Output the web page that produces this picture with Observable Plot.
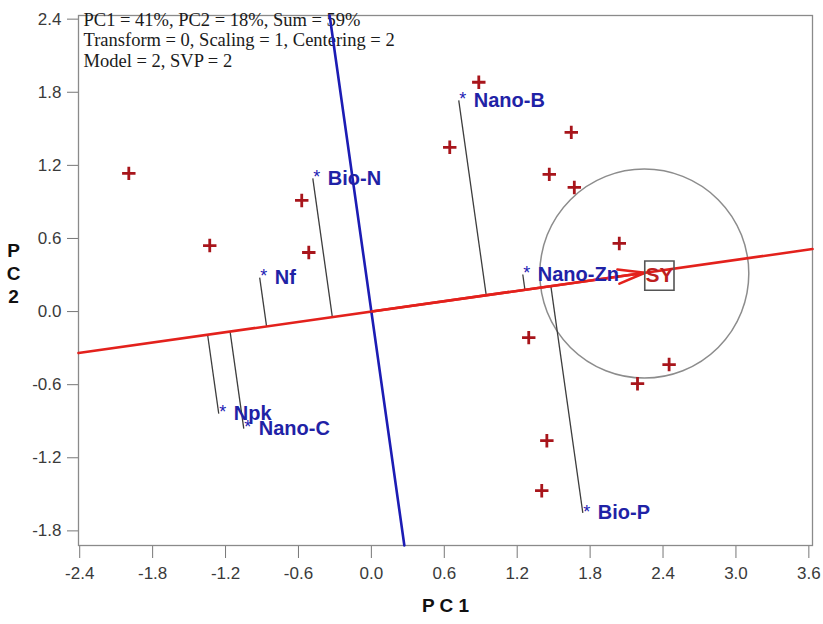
<!DOCTYPE html>
<html><head><meta charset="utf-8">
<script src="https://cdn.jsdelivr.net/npm/d3@7"></script>
<script src="https://cdn.jsdelivr.net/npm/@observablehq/plot@0.6"></script>
<style>body{margin:0;background:#fff} #chart svg{display:block}</style>
</head><body><div id="chart"></div>
<script>
// ---- data ----
const xTicks = [-2.4, -1.8, -1.2, -0.6, 0.0, 0.6, 1.2, 1.8, 2.4, 3.0, 3.6];
const yTicks = [-1.8, -1.2, -0.6, 0.0, 0.6, 1.2, 1.8, 2.4];

// entries (red plus markers)
const entryX = [-1.996, -1.33, -0.573, -0.515, 0.884, 0.645, 1.645, 1.464, 1.67, 2.04, 1.295, 2.45, 2.19, 1.444, 1.402];
const entryY = [1.134, 0.542, 0.912, 0.485, 1.882, 1.348, 1.471, 1.126, 1.019, 0.559, -0.214, -0.435, -0.592, -1.06, -1.47];

// testers (blue asterisks)
const testerNames = ["Nano-B", "Bio-N", "Nf", "Nano-Zn", "Npk", "Nano-C", "Bio-P"];
const testerX = [0.719, -0.482, -0.919, 1.246, -1.256, -1.05, 1.74];
const testerY = [1.734, 1.093, 0.279, 0.304, -0.838, -0.961, -1.652];

// trait vector
const traitName = "SY";
const traitX = [2.37];
const traitY = [0.335];

// concentric circle centre
const circleX = [2.246];
const circleY = [0.312];

const notes = ["PC1 = 41%, PC2 = 18%, Sum = 59%", "Transform = 0, Scaling = 1, Centering = 2", "Model = 2, SVP = 2"];
const xLabel = "P C 1";
const yLabel = "P\nC\n2";

// ---- derived tables ----
const xDomain = [-2.41, 3.63];
const yDomain = [-1.92, 2.43];
const tx = traitX[0], ty = traitY[0];
const len = Math.hypot(tx, ty);
const ux = tx / len, uy = ty / len;
const entries = entryX.map((x, i) => ({x, y: entryY[i]}));
const testers = testerNames.map((name, i) => {
  const x = testerX[i], y = testerY[i];
  const d = x * ux + y * uy;
  return {name, x, y, fx: d * ux, fy: d * uy};
});
const slope = ty / tx;
const redLine = [{x: xDomain[0], y: xDomain[0] * slope}, {x: xDomain[1], y: xDomain[1] * slope}];
const blueLine = [{y: yDomain[1], x: -yDomain[1] * slope}, {y: yDomain[0], x: -yDomain[0] * slope}];
const tipScale = 0.95;
const arrow = [{x1: 0, y1: 0, x2: tx * tipScale, y2: ty * tipScale}];
const trait = [{x: tx, y: ty - 0.04, name: traitName}];
const circle = [{x: circleX[0], y: circleY[0]}];

const RED = "#e3211c", DARKRED = "#a8151b", BLUE = "#1c1cb4", LABELBLUE = "#1f22a6";

const chart = Plot.plot({
  width: 823, height: 624,
  marginLeft: 78, marginRight: 11, marginTop: 15, marginBottom: 79,
  x: {domain: xDomain},
  y: {domain: yDomain},
  style: {fontFamily: "'Liberation Sans', Arial, sans-serif", background: "white"},
  marks: [
    Plot.axisX(xTicks, {tickSize: 13, tickPadding: 8, fontSize: 17, tickFormat: d => d.toFixed(1), label: null, stroke: "#777", fill: "#3a3a3a"}),
    Plot.axisY(yTicks, {tickSize: 11, tickPadding: 6, fontSize: 17, tickFormat: d => d.toFixed(1), label: null, stroke: "#777", fill: "#3a3a3a"}),
    Plot.frame({stroke: "#8a8a8a", strokeWidth: 1.3}),
    Plot.text([notes.join("\n")], {frameAnchor: "top-left", dx: 5, dy: -4, lineAnchor: "top", textAnchor: "start", lineHeight: 1.1, fontSize: 18.5, fontFamily: "'Liberation Serif', 'Times New Roman', serif", fill: "#1a1a1a"}),
    Plot.dot(circle, {x: "x", y: "y", r: 104.5, stroke: "#8c8c8c", strokeWidth: 1.5, fill: "none"}),
    Plot.link(testers, {x1: "x", y1: "y", x2: "fx", y2: "fy", stroke: "#3d3d3d", strokeWidth: 1.3}),
    Plot.line(redLine, {x: "x", y: "y", stroke: RED, strokeWidth: 2.6}),
    Plot.line(blueLine, {x: "x", y: "y", stroke: BLUE, strokeWidth: 2.6}),
    Plot.arrow(arrow, {x1: "x1", y1: "y1", x2: "x2", y2: "y2", stroke: RED, strokeWidth: 2.6, headLength: 16, headAngle: 30}),
    Plot.dot(entries, {x: "x", y: "y", symbol: "plus", r: 4.4, stroke: DARKRED, strokeWidth: 2.8}),
    Plot.text(testers, {x: "x", y: "y", text: () => "*", dx: 4, dy: -1, fontSize: 18, fill: BLUE, lineAnchor: "middle", textAnchor: "middle"}),
    Plot.text(testers, {x: "x", y: "y", text: "name", dx: 15, textAnchor: "start", lineAnchor: "middle", fontSize: 20, fontWeight: "bold", fill: LABELBLUE}),
    Plot.dot(trait, {x: "x", y: "y", symbol: "square", r: 16.5, stroke: "#555", strokeWidth: 1.6, fill: "none"}),
    Plot.text(trait, {x: "x", y: "y", text: "name", fontSize: 21, fontWeight: "bold", fill: "#bd1f1f", lineAnchor: "middle", textAnchor: "middle"}),
    Plot.text([xLabel], {frameAnchor: "bottom", dy: 60, lineAnchor: "middle", fontSize: 19, fontWeight: "bold", fill: "#111"}),
    Plot.text([yLabel], {frameAnchor: "left", dx: -65, dy: -8, lineAnchor: "middle", textAnchor: "middle", lineHeight: 1.2, fontSize: 19, fontWeight: "bold", fill: "#111"})
  ]
});
document.getElementById("chart").appendChild(chart);
</script>
</body></html>
